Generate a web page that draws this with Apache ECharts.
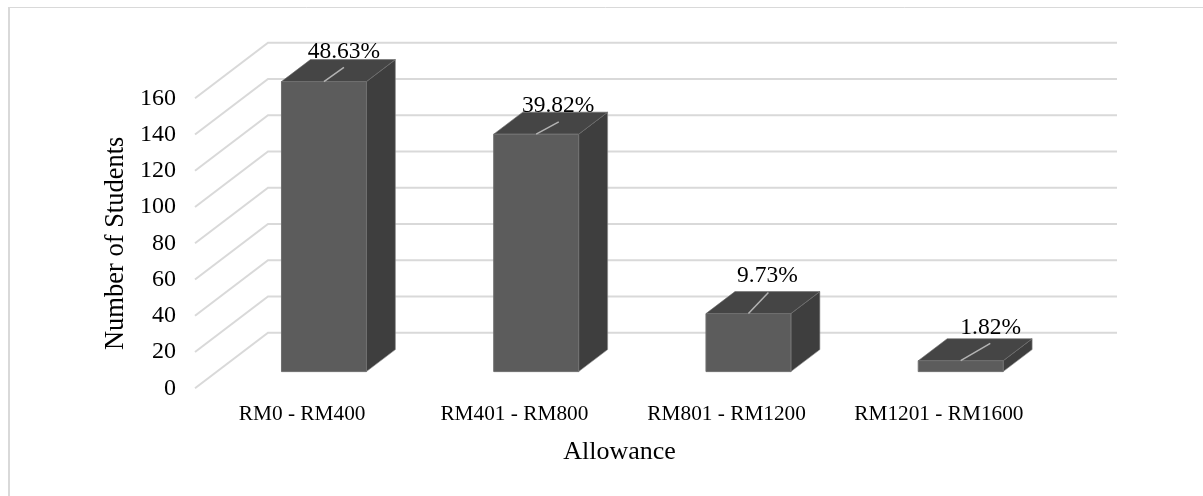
<!DOCTYPE html>
<html>
<head>
<meta charset="utf-8">
<style>html,body{margin:0;padding:0;background:#fff;overflow:hidden}#chart{width:1203px;height:496px}</style>
<script src="https://cdn.jsdelivr.net/npm/echarts@6/dist/echarts.min.js"></script>
</head>
<body>
<div id="chart"></div>
<script>
const categories = ['RM0 - RM400', 'RM401 - RM800', 'RM801 - RM1200', 'RM1201 - RM1600'];
const students = [160, 131, 32, 6];
const shareLabels = ['48.63%', '39.82%', '9.73%', '1.82%'];
const yTicks = [0, 20, 40, 60, 80, 100, 120, 140, 160];

const SERIF = '"Liberation Serif", serif';
// Oblique projection: the floor runs from the front edge to the back wall along this vector.
const WALL = [73, -55.5];
const BAR_INSET = [22.8, -16.7];
const BAR_DEPTH = [29, -22];
const BAR_WIDTH_RATIO = 0.4;

// Leader line from each bar's top edge towards its percentage label, and the label's centre.
const leaders = [[20, -14.3], [22.6, -12.3], [20, -21], [29.6, -17.3]];
const labelOffsets = [[20, -29.3], [22, -28.3], [19, -37.6], [30, -32.8]];

const chart = echarts.init(document.getElementById('chart'), null, { renderer: 'canvas' });

function wallLines(params, api) {
  const c = api.coord([0, api.value(0)]);
  const g = params.coordSys;
  const x0 = g.x, y = c[1];
  const xb = x0 + WALL[0], yb = y + WALL[1];
  return {
    type: 'polyline', silent: true,
    shape: { points: [[x0, y], [xb, yb], [xb + g.width, yb]] },
    style: { fill: null, stroke: '#d9d9d9', lineWidth: 2 }
  };
}

function bar3d(params, api) {
  const base = api.coord([api.value(0), 0]);
  const top = api.coord([api.value(0), api.value(1)]);
  const w = api.size([1, 0])[0] * BAR_WIDTH_RATIO;
  const l = base[0] + BAR_INSET[0] - w / 2, r = l + w;
  const b = base[1] + BAR_INSET[1], t = top[1] + BAR_INSET[1];
  const dx = BAR_DEPTH[0], dy = BAR_DEPTH[1];
  const mx = (l + r) / 2;
  const leader = leaders[params.dataIndex];
  return {
    type: 'group',
    silent: true,
    children: [
      { type: 'polygon', shape: { points: [[r, b], [r + dx, b + dy], [r + dx, t + dy], [r, t]] },
        style: { fill: '#3e3e3e', stroke: '#8c8c8c', lineWidth: 0.6 } },
      { type: 'polygon', shape: { points: [[l, t], [r, t], [r + dx, t + dy], [l + dx, t + dy]] },
        style: { fill: '#454545', stroke: '#6a6a6a', lineWidth: 0.6 } },
      { type: 'polygon', shape: { points: [[l, b], [r, b], [r, t], [l, t]] },
        style: { fill: '#5c5c5c', stroke: '#6f6f6f', lineWidth: 1 } },
      { type: 'line', shape: { x1: mx, y1: t, x2: mx + leader[0], y2: t + leader[1] },
        style: { stroke: '#b3b3b3', lineWidth: 1.5 } }
    ]
  };
}

function shareLabel(params, api) {
  const i = params.dataIndex;
  const base = api.coord([api.value(0), 0]);
  const top = api.coord([api.value(0), api.value(1)]);
  return {
    type: 'text',
    silent: true,
    style: {
      text: shareLabels[i],
      x: base[0] + BAR_INSET[0] + labelOffsets[i][0],
      y: top[1] + BAR_INSET[1] + labelOffsets[i][1],
      align: 'center', verticalAlign: 'middle',
      font: '23.5px ' + SERIF, fill: '#000'
    }
  };
}

chart.setOption({
  animation: false,
  backgroundColor: '#fff',
  graphic: [
    { type: 'line', silent: true, z: -1, shape: { x1: 9, y1: 496, x2: 9, y2: 7 },
      style: { stroke: '#d9d9d9', lineWidth: 2 } },
    { type: 'line', silent: true, z: -1, shape: { x1: 8, y1: 7.5, x2: 1203, y2: 7.5 },
      style: { stroke: '#d9d9d9', lineWidth: 1 } }
  ],
  grid: { left: 195, right: 159, top: 98.3, bottom: 107.7, containLabel: false },
  xAxis: {
    type: 'category',
    data: categories,
    name: 'Allowance',
    nameLocation: 'middle',
    nameGap: 51,
    nameTextStyle: { fontFamily: SERIF, fontSize: 26, color: '#000' },
    axisLine: { show: false }, axisTick: { show: false },
    axisLabel: { fontFamily: SERIF, fontSize: 21.3, color: '#000', margin: 16, interval: 0, padding: [0, 0, 0, 2] }
  },
  yAxis: {
    type: 'value',
    min: 0, max: 160, interval: 20,
    name: 'Number of Students',
    nameLocation: 'middle',
    nameGap: 65,
    nameTextStyle: { fontFamily: SERIF, fontSize: 26.5, color: '#000' },
    axisLine: { show: false }, axisTick: { show: false },
    splitLine: { show: false },
    axisLabel: { fontFamily: SERIF, fontSize: 24, color: '#000', margin: 19, padding: [8, 0, 0, 0] }
  },
  series: [
    { type: 'custom', name: 'walls', coordinateSystem: 'cartesian2d', renderItem: wallLines,
      encode: { y: 0 }, z: 1, silent: true, data: yTicks.map(v => [v]) },
    { type: 'custom', name: 'Students', coordinateSystem: 'cartesian2d', renderItem: bar3d,
      encode: { x: 0, y: 1 }, z: 2, silent: true,
      data: students.map((v, i) => [i, v]) },
    { type: 'custom', name: 'Share', coordinateSystem: 'cartesian2d', renderItem: shareLabel,
      encode: { x: 0, y: 1 }, z: 3, silent: true,
      data: students.map((v, i) => [i, v]) }
  ]
});
</script>
</body>
</html>
